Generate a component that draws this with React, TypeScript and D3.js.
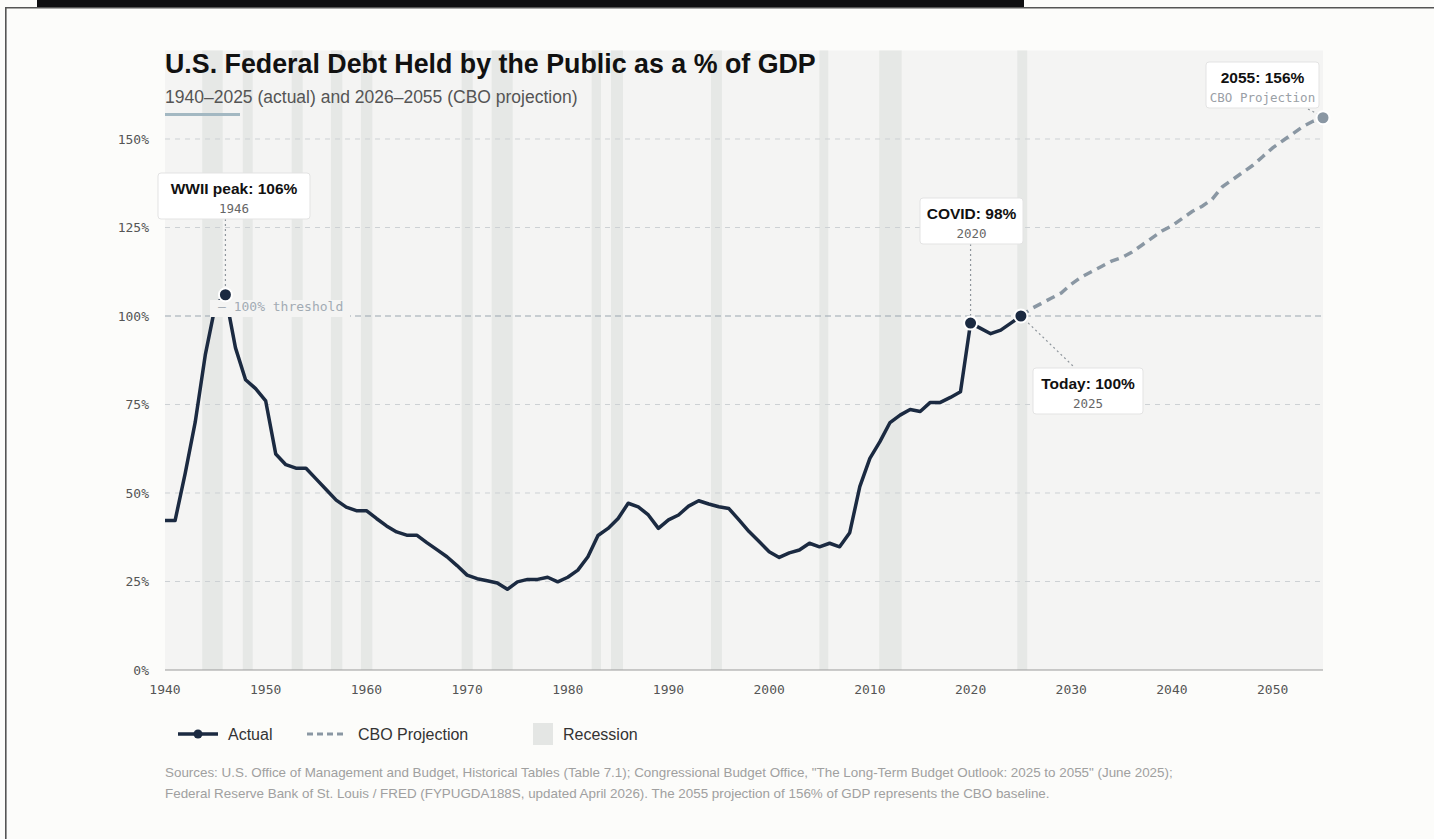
import React from 'react';
import * as d3 from 'd3';

// ---------- DATA ----------
const actualYears: number[] = d3.range(1940, 2026);
const actualValues: number[] = [
  42.2, 42.2, 55.5, 70, 89, 103, 106, 91, 82, 79.5,
  76, 61, 58, 57, 57, 54, 51, 48, 46, 45,
  45, 42.8, 40.7, 39, 38.1, 38.1, 36, 34, 32, 29.5,
  26.8, 25.8, 25.2, 24.6, 22.8, 24.9, 25.6, 25.6, 26.2, 24.9,
  26.2, 28.2, 32, 38, 40, 42.8, 47.1, 46.1, 43.8, 40,
  42.4, 43.8, 46.3, 47.8, 46.9, 46.1, 45.6, 42.4, 39.1, 36.3,
  33.4, 31.8, 33.1, 33.9, 35.8, 34.8, 35.8, 34.8, 38.8, 51.8,
  59.8, 64.5, 69.9, 72, 73.6, 73, 75.6, 75.6, 77, 78.6,
  98, 96.5, 95, 96, 98, 100,
];
const projYears: number[] = d3.range(2025, 2056);
const projValues: number[] = [
  100, 102, 103.5, 105, 106.5, 109, 111, 112.5, 114, 115.5,
  116.5, 118, 120, 122, 124, 125.5, 127.5, 129.5, 131, 133,
  136.5, 138.5, 140.5, 142.5, 145, 147.5, 149.5, 151.5, 153.5, 155,
  156,
];
const recessionStarts: number[] = [1943.7, 1947.72, 1952.58, 1956.48, 1959.46, 1969.46, 1972.44, 1982.37, 1984.29, 1994.22, 2004.98, 2010.93, 2024.64];
const recessionEnds: number[] = [1945.73, 1948.71, 1953.67, 1957.61, 1960.59, 1970.56, 1974.53, 1983.3, 1985.48, 1995.31, 2005.87, 2013.16, 2025.63];
const yTicks: number[] = [0, 25, 50, 75, 100, 125, 150];
const yTickLabels: string[] = ['0%', '25%', '50%', '75%', '100%', '125%', '150%'];
const xTicks: number[] = [1940, 1950, 1960, 1970, 1980, 1990, 2000, 2010, 2020, 2030, 2040, 2050];
const annoYears: number[] = [1946, 2020, 2025, 2055];
const annoTitles: string[] = ['WWII peak: 106%', 'COVID: 98%', 'Today: 100%', '2055: 156%'];
const annoSubs: string[] = ['1946', '2020', '2025', 'CBO Projection'];

const TITLE = 'U.S. Federal Debt Held by the Public as a % of GDP';
const SUBTITLE = '1940\u20132025 (actual) and 2026\u20132055 (CBO projection)';
const SOURCE1 = 'Sources: U.S. Office of Management and Budget, Historical Tables (Table 7.1); Congressional Budget Office, "The Long-Term Budget Outlook: 2025 to 2055" (June 2025);';
const SOURCE2 = 'Federal Reserve Bank of St. Louis / FRED (FYPUGDA188S, updated April 2026). The 2055 projection of 156% of GDP represents the CBO baseline.';

// ---------- LAYOUT ----------
const W = 1434, H = 839;
const X0 = 165, X1 = 1323, Y0 = 670, Y1 = 50.5;
const NAVY = '#1b2a41';
const PROJ = '#8a97a3';
const SANS = '"Liberation Sans", Arial, Helvetica, sans-serif';
const MONO = '"DejaVu Sans Mono", monospace';

const annoBoxes = [
  { cx: 234, top: 173, w: 152 },
  { cx: 971.5, top: 198, w: 103 },
  { cx: 1088, top: 368, w: 110 },
  { cx: 1262.5, top: 62, w: 113 },
];

export default function App() {
  const x = d3.scaleLinear().domain([1940, 2055]).range([X0, X1]);
  const y = d3.scaleLinear().domain([0, 175]).range([Y0, Y1]);

  const actual = actualYears.map((yr, i) => [yr, actualValues[i]] as [number, number]);
  const proj = projYears.map((yr, i) => [yr, projValues[i]] as [number, number]);
  const line = d3.line<[number, number]>().x(d => x(d[0])).y(d => y(d[1]));

  const valueAt = (yr: number) => {
    const i = actualYears.indexOf(yr);
    if (i >= 0) return actualValues[i];
    return projValues[projYears.indexOf(yr)];
  };

  return (
    <svg width={W} height={H} style={{ position: 'absolute', left: 0, top: 0, display: 'block' }}>
      <rect x={0} y={0} width={W} height={H} fill="#fcfcfa" />
      {/* frame */}
      <rect x={37} y={0} width={987} height={7.5} fill="#0e0e10" />
      <line x1={5} x2={W} y1={7.8} y2={7.8} stroke="#555" strokeWidth={1.6} />
      <line x1={5.8} x2={5.8} y1={7} y2={H} stroke="#555" strokeWidth={1.6} />

      {/* plot background */}
      <rect x={X0} y={Y1} width={X1 - X0} height={Y0 - Y1} fill="#f4f4f3" />
      {recessionStarts.map((s, i) => (
        <rect key={'r' + i} x={x(s)} y={Y1} width={x(recessionEnds[i]) - x(s)} height={Y0 - Y1} fill="#e6e8e6" />
      ))}

      {/* gridlines */}
      {yTicks.filter(t => t > 0 && t !== 100).map(t => (
        <line key={'g' + t} x1={X0} x2={X1} y1={y(t)} y2={y(t)} stroke="#cdd1d4" strokeWidth={1} strokeDasharray="5,5" />
      ))}
      <line x1={X0} x2={X1} y1={y(100)} y2={y(100)} stroke="#9aa6b0" strokeWidth={1.2} strokeDasharray="6,4" />
      <line x1={X0} x2={X1} y1={Y0} y2={Y0} stroke="#999" strokeWidth={1.2} />

      {/* title */}
      <text x={X0} y={73} fontFamily={SANS} fontWeight={700} fontSize={26.8} fill="#111">{TITLE}</text>
      <text x={X0} y={103} fontFamily={SANS} fontSize={17.5} fill="#555">{SUBTITLE}</text>
      <rect x={X0} y={113} width={75} height={3} fill="#a3b8c2" />

      {/* axes labels */}
      {yTicks.map((t, i) => (
        <text key={'yl' + t} x={149} y={y(t) + 4.5} textAnchor="end" fontFamily={MONO} fontSize={13} fill="#555">{yTickLabels[i]}</text>
      ))}
      {xTicks.map(t => (
        <text key={'xl' + t} x={x(t)} y={694} textAnchor="middle" fontFamily={MONO} fontSize={13} fill="#555">{t}</text>
      ))}

      {/* lines */}
      <path d={line(proj) || ''} fill="none" stroke={PROJ} strokeWidth={3.5} strokeDasharray="9,6" />
      <path d={line(actual) || ''} fill="none" stroke={NAVY} strokeWidth={3.5} strokeLinejoin="round" />

      {/* threshold label */}
      <rect x={210} y={300} width={140} height={17} fill="#f4f4f3" />
      <text x={218} y={311} fontFamily={MONO} fontSize={13} fill="#a2abb3">{'\u2014 100% threshold'}</text>

      {/* annotations */}
      {annoYears.map((yr, i) => {
        const b = annoBoxes[i];
        const px = x(yr), py = y(valueAt(yr));
        const bottom = b.top + 46;
        let lx1 = b.cx, ly1 = bottom, lx2 = px, ly2 = py;
        if (i === 0 || i === 1) { lx1 = px; ly1 = bottom; ly2 = py - 6; }
        if (i === 2) { lx1 = px; ly1 = py; lx2 = 1073; ly2 = b.top - 2; }
        if (i === 3) { lx1 = 1308; ly1 = bottom + 1; lx2 = px - 4; ly2 = py - 3; }
        return (
          <g key={'a' + i}>
            <line x1={lx1} y1={ly1} x2={lx2} y2={ly2} stroke="#8f969c" strokeWidth={1.2} strokeDasharray="2,3" />
            <rect x={b.cx - b.w / 2} y={b.top} width={b.w} height={46} rx={3} fill="#fff" stroke="#e3e3e3" strokeWidth={1} />
            <text x={b.cx} y={b.top + 21} textAnchor="middle" fontFamily={SANS} fontWeight={700} fontSize={15.5} fill="#111">{annoTitles[i]}</text>
            <text x={b.cx} y={b.top + 40} textAnchor="middle" fontFamily={MONO} fontSize={12.5} fill={i === 3 ? '#9aa0a6' : '#666'}>{annoSubs[i]}</text>
            <circle cx={px} cy={py} r={6.5} fill={i === 3 ? PROJ : NAVY} stroke="#fff" strokeWidth={2} />
          </g>
        );
      })}

      {/* legend */}
      <line x1={178} x2={218} y1={734} y2={734} stroke={NAVY} strokeWidth={3.5} />
      <circle cx={198} cy={734} r={4.5} fill={NAVY} />
      <text x={228} y={740} fontFamily={SANS} fontSize={16} fill="#333">Actual</text>
      <line x1={307} x2={347} y1={734} y2={734} stroke={PROJ} strokeWidth={3} strokeDasharray="6,4" />
      <text x={358} y={740} fontFamily={SANS} fontSize={16} fill="#333">CBO Projection</text>
      <rect x={533} y={723} width={20} height={22} fill="#e4e6e4" />
      <text x={563} y={740} fontFamily={SANS} fontSize={16} fill="#333">Recession</text>

      {/* sources */}
      <text x={X0} y={777} fontFamily={SANS} fontSize={13.4} fill="#a0a0a0">{SOURCE1}</text>
      <text x={X0} y={798} fontFamily={SANS} fontSize={13.4} fill="#a0a0a0">{SOURCE2}</text>
    </svg>
  );
}
